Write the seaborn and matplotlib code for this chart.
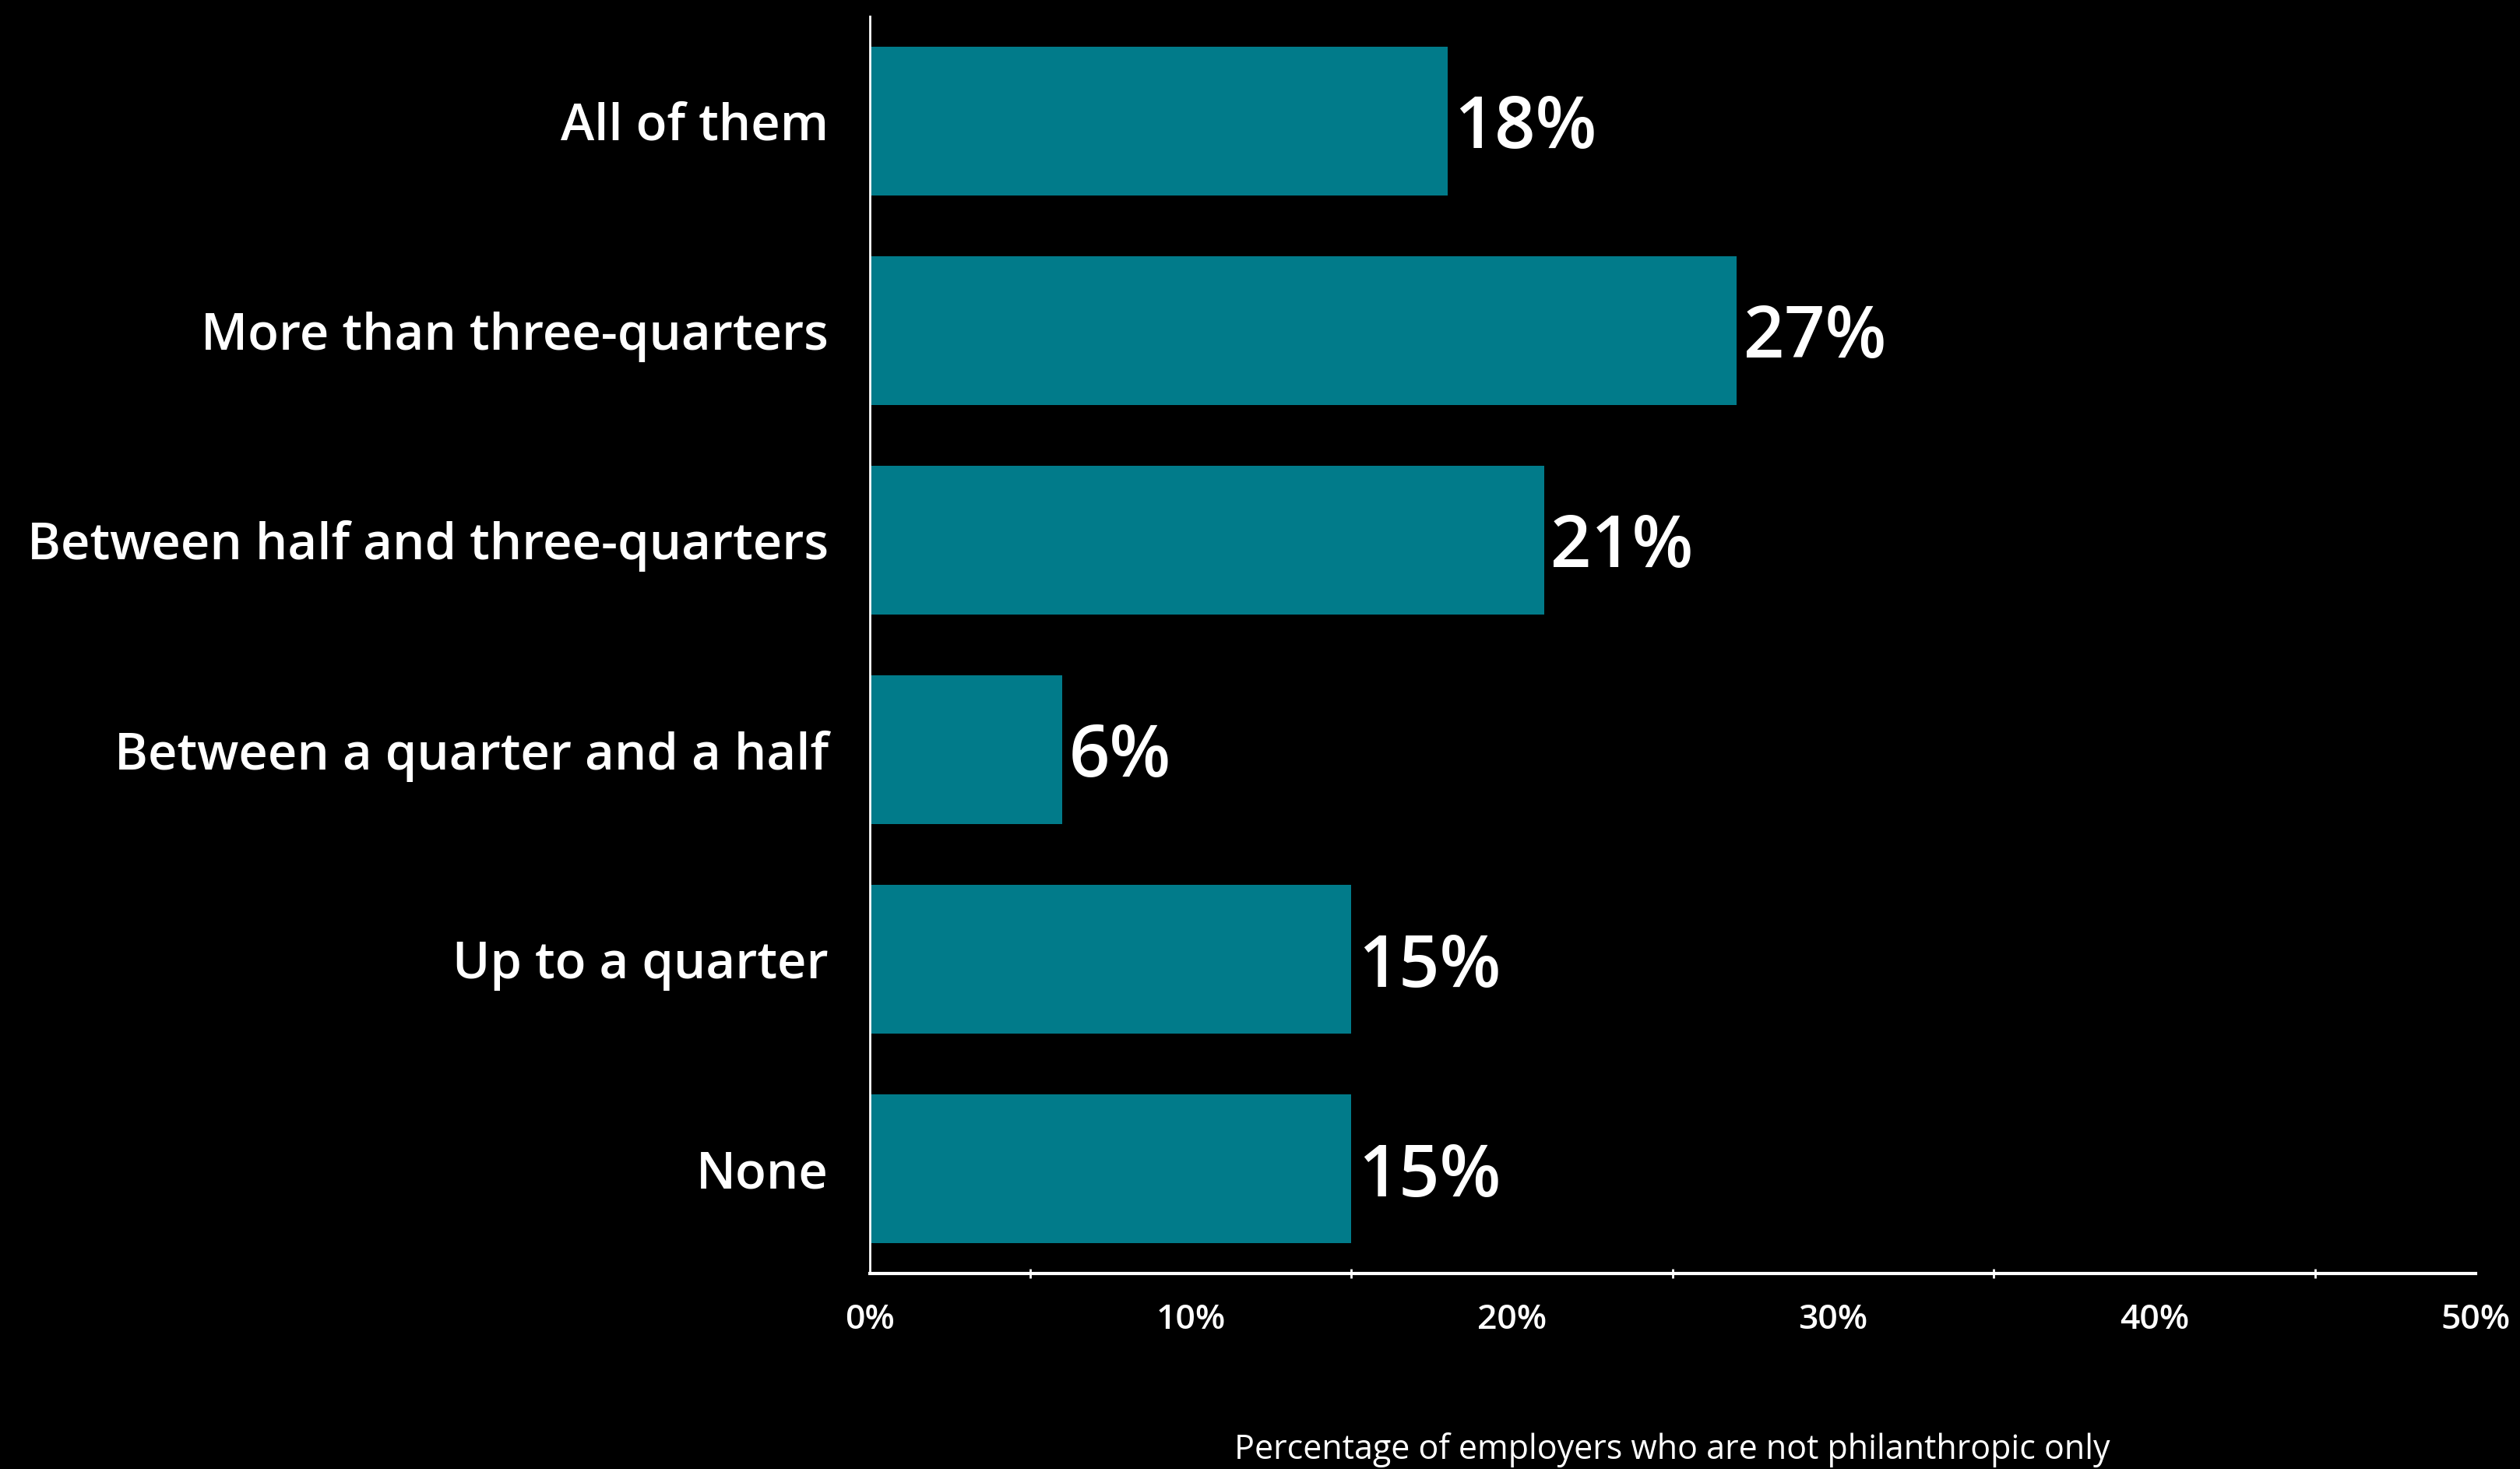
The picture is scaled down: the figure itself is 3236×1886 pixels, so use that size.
import matplotlib
matplotlib.use('Agg')
import matplotlib.pyplot as plt
import seaborn as sns
import pandas as pd
from matplotlib.ticker import MultipleLocator, FuncFormatter

categories = ['All of them', 'More than three-quarters', 'Between half and three-quarters',
              'Between a quarter and a half', 'Up to a quarter', 'None']
values = [18, 27, 21, 6, 15, 15]
xlabel = 'Percentage of employers who are not philanthropic only'

bar_color = '#017B8A'

sns.set_style('dark')
plt.rcParams['font.family'] = ['Open Sans', 'DejaVu Sans']

df = pd.DataFrame({'category': categories, 'value': values})

fig = plt.figure(figsize=(32.37, 18.86), dpi=100, facecolor='black')
ax = fig.add_axes([0.345, 0.133, 0.637, 0.856])
ax.set_facecolor('black')

sns.barplot(data=df, x='value', y='category', color=bar_color, width=0.71,
            saturation=1, orient='h', linewidth=0, edgecolor='none', ax=ax)

ax.set_xlim(0, 50)
ax.set_ylim(5.5, -0.5)
ax.xaxis.set_major_locator(MultipleLocator(10))
ax.xaxis.set_minor_locator(MultipleLocator(5))
ax.xaxis.set_major_formatter(FuncFormatter(lambda v, p: f'{v:.0f}%'))
ax.tick_params(axis='x', which='major', direction='inout', length=11, width=2,
               color='white', labelcolor='white', labelsize=32, pad=22)
ax.tick_params(axis='x', which='minor', direction='inout', length=8, width=2,
               color='white', bottom=True)
ax.tick_params(axis='y', length=0, labelcolor='white', labelsize=47, pad=38)
for t in ax.get_yticklabels():
    t.set_fontweight('semibold')
for t in ax.get_xticklabels():
    t.set_fontweight('semibold')

ax.grid(False)
for s in ['top', 'right']:
    ax.spines[s].set_visible(False)
ax.spines['left'].set_color('white')
ax.spines['left'].set_linewidth(2)
ax.spines['bottom'].set_color('white')
ax.spines['bottom'].set_linewidth(3)

ax.set_ylabel('')
ax.set_xlabel(xlabel, color='white', fontsize=31, labelpad=88)

for c in ax.containers:
    texts = ax.bar_label(c, labels=[f'{v}%' for v in values], padding=6, color='white',
                         fontsize=66, fontweight='semibold')
    for t in texts:
        t.set_verticalalignment('center_baseline')

fig.savefig('out.png', dpi=100, facecolor='black')
